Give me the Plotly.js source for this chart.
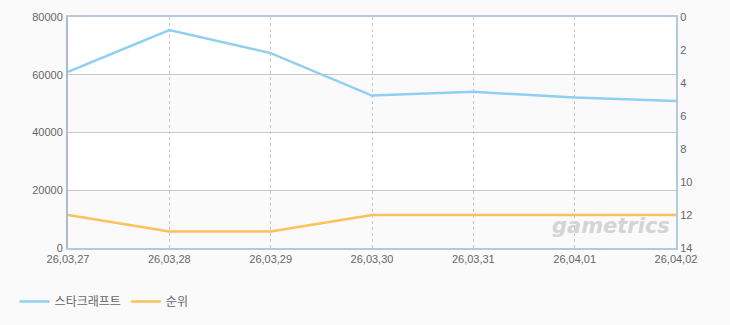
<!DOCTYPE html>
<html><head><meta charset="utf-8">
<script src="https://cdn.plot.ly/plotly-3.0.1.min.js"></script>
<style>html,body{margin:0;padding:0;background:#fafafa;}#c{width:730px;height:325px;}</style>
</head><body><div id="c"></div>
<script>
const dates = ["26,03,27","26,03,28","26,03,29","26,03,30","26,03,31","26,04,01","26,04,02"];
const users = [61000, 75500, 67500, 52800, 54100, 52100, 50900];
const ranks = [12, 13, 13, 12, 12, 12, 12];
const seriesNames = ["스타크래프트", "순위"];
const bands = [[0,20000],[40000,60000]];

const font = "'Liberation Sans', Arial, sans-serif";
const traces = [
  {x: dates, y: users, name: seriesNames[0], type: 'scatter', mode: 'lines',
   line: {color: '#8fd0f2', width: 2.5}, yaxis: 'y'},
  {x: dates, y: ranks, name: seriesNames[1], type: 'scatter', mode: 'lines',
   line: {color: '#fdc15c', width: 2.5}, yaxis: 'y2'}
];
const shapes = bands.map(b => ({type:'rect', xref:'paper', yref:'y', x0:0, x1:1, y0:b[0], y1:b[1],
  fillcolor:'#fafafa', line:{width:0}, layer:'below'}));
const layout = {
  width: 730, height: 325,
  margin: {l: 68, r: 54, t: 17, b: 77, autoexpand: false},
  paper_bgcolor: '#fafafa', plot_bgcolor: '#ffffff',
  showlegend: true,
  legend: {orientation: 'h', x: 0.02, xref: 'container', xanchor: 'left',
    y: 0.072, yref: 'container', yanchor: 'middle',
    font: {family: "'Noto Sans CJK KR', sans-serif", size: 12, color: '#666'},
    bgcolor: 'rgba(0,0,0,0)', itemwidth: 30, tracegroupgap: 0},
  xaxis: {type: 'category', range: [0, 6], showgrid: true, gridcolor: '#c8c8c8', griddash: '3px,3px',
    gridwidth: 1, showline: true, mirror: true, linecolor: '#b6c9dc', linewidth: 2,
    ticks: '', tickfont: {family: font, size: 11, color: '#666'}, zeroline: false, automargin: false},
  yaxis: {range: [0, 80000], dtick: 20000, showgrid: true, gridcolor: '#c8c8c8', gridwidth: 1,
    showline: true, linecolor: '#aabdd0', linewidth: 2, ticks: '', zeroline: false, automargin: false,
    tickfont: {family: font, size: 11, color: '#666'}, tickformat: 'd', ticklabelstandoff: 1},
  yaxis2: {range: [14, 0], dtick: 2, overlaying: 'y', side: 'right', showgrid: false, automargin: false,
    showline: true, linecolor: '#b6c9dc', linewidth: 2, ticks: '', zeroline: false,
    tickfont: {family: font, size: 11, color: '#666'}},
  shapes: shapes,
  annotations: [{xref: 'paper', yref: 'paper', x: 0.893, xanchor: 'center', y: 0.095, yanchor: 'middle',
    text: '<b><i>gametrics</i></b>', showarrow: false,
    font: {family: "'DejaVu Sans', sans-serif", size: 21, color: '#d4d4d4'}}],
  hovermode: false
};
Plotly.newPlot('c', traces, layout, {displayModeBar: false, staticPlot: true});
</script></body></html>
